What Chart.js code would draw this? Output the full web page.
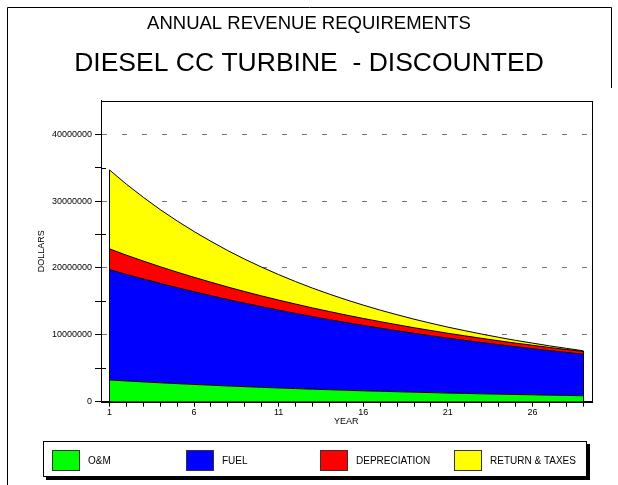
<!DOCTYPE html>
<html>
<head>
<meta charset="utf-8">
<script src="https://cdn.jsdelivr.net/npm/chart.js@4.4.1/dist/chart.umd.min.js"></script>
<style>
html, body { margin: 0; padding: 0; background: #fff; }
</style>
</head>
<body>
<canvas id="revenue" width="618" height="485"></canvas>
<script>
const years = ['1','2','3','4','5','6','7','8','9','10','11','12','13','14','15',
               '16','17','18','19','20','21','22','23','24','25','26','27','28','29'];
const oAndM = [3250000,3100000,2960000,2830000,2700000,2580000,2470000,2350000,2250000,2150000,
               2050000,1960000,1870000,1790000,1710000,1630000,1560000,1490000,1420000,1360000,
               1290000,1240000,1180000,1130000,1080000,1030000,980000,940000,890000];
const fuel = [16500000,15930000,15390000,14860000,14350000,13860000,13380000,12920000,12480000,12050000,
              11640000,11240000,10850000,10480000,10120000,9780000,9440000,9120000,8800000,8500000,
              8210000,7930000,7660000,7400000,7140000,6900000,6660000,6430000,6210000];
const depreciation = [3100000,2880000,2680000,2490000,2320000,2160000,2010000,1870000,1730000,1610000,
                      1500000,1400000,1300000,1210000,1120000,1040000,970000,900000,840000,780000,
                      730000,680000,630000,580000,540000,510000,470000,440000,410000];
const returnTaxes = [11800000,10610000,9530000,8540000,7650000,6840000,6110000,5440000,4840000,4300000,
                     3810000,3360000,2960000,2600000,2280000,1990000,1720000,1490000,1280000,1090000,
                     920000,770000,640000,520000,410000,320000,240000,170000,100000];
const yTicksLabelled = [0, 10000000, 20000000, 30000000, 40000000];

Chart.defaults.font.family = 'Arial, "Liberation Sans", sans-serif';
Chart.defaults.color = '#000';

// plot box, end edges of the areas, minor ticks, outer frame and the boxed legend
const framePlugin = {
  id: 'frame',
  afterDatasetsDraw(chart) {
    const c = chart.ctx, a = chart.chartArea, y = chart.scales.y;
    const top = chart.getDatasetMeta(chart.data.datasets.length - 1).data;
    c.save();
    c.strokeStyle = '#000';
    c.lineWidth = 1;
    [top[0], top[top.length - 1]].forEach(p => {
      c.beginPath();
      c.moveTo(Math.round(p.x) + 0.5, p.y);
      c.lineTo(Math.round(p.x) + 0.5, a.bottom);
      c.stroke();
    });
    // the unlabelled y ticks also poke into the plot
    y.ticks.forEach(t => {
      if (yTicksLabelled.includes(t.value) || t.value >= y.max) return;
      const py = Math.round(y.getPixelForValue(t.value)) + 0.5;
      c.beginPath();
      c.moveTo(a.left, py);
      c.lineTo(a.left + 5, py);
      c.stroke();
    });
    c.strokeRect(Math.round(a.left) + 0.5, Math.round(a.top) + 0.5,
                 Math.round(a.right - a.left), Math.round(a.bottom - a.top));
    c.restore();
  },
  afterDraw(chart) {
    const c = chart.ctx;
    c.save();
    c.strokeStyle = '#000';
    c.lineWidth = 1;
    c.beginPath();
    c.moveTo(7.5, 490); c.lineTo(7.5, 7.5); c.lineTo(611.5, 7.5); c.lineTo(611.5, 88);
    c.stroke();

    const lx = 43, ly = 441, lw = 544, lh = 36;
    c.fillStyle = '#000';
    c.fillRect(lx + 3, ly + 3, lw, lh);
    c.fillStyle = '#fff';
    c.fillRect(lx, ly, lw, lh);
    c.strokeRect(lx + 0.5, ly + 0.5, lw - 1, lh - 1);
    c.font = '10px Arial, "Liberation Sans", sans-serif';
    c.textBaseline = 'middle';
    chart.data.datasets.forEach((ds, i) => {
      const x = 52 + i * 134;
      c.fillStyle = ds.backgroundColor;
      c.fillRect(x, 450, 28, 21);
      c.strokeStyle = '#333';
      c.strokeRect(x + 0.5, 450.5, 27, 20);
      c.fillStyle = '#000';
      c.fillText(ds.label, x + 36, 461);
    });
    c.restore();
  }
};

const ctx = document.getElementById('revenue').getContext('2d');
const revenueChart = new Chart(ctx, {
  type: 'line',
  data: {
    labels: years,
    datasets: [
      { label: 'O&M', data: oAndM, backgroundColor: '#00ff00', fill: 'origin' },
      { label: 'FUEL', data: fuel, backgroundColor: '#0000ff', fill: '-1' },
      { label: 'DEPRECIATION', data: depreciation, backgroundColor: '#ff0000', fill: '-1' },
      { label: 'RETURN & TAXES', data: returnTaxes, backgroundColor: '#ffff00', fill: '-1' }
    ]
  },
  options: {
    responsive: false,
    animation: false,
    elements: {
      line: { borderColor: '#000', borderWidth: 1, tension: 0 },
      point: { radius: 0, hoverRadius: 0 }
    },
    layout: { padding: { left: 26.3, right: 26.3, top: 0, bottom: 58.3 } },
    plugins: {
      legend: { display: false },
      tooltip: { enabled: false },
      title: {
        display: true, text: 'ANNUAL REVENUE REQUIREMENTS', color: '#000',
        font: { size: 18.5, weight: 'normal' }, padding: { top: 12.4, bottom: 0 }
      },
      subtitle: {
        display: true, text: 'DIESEL CC TURBINE  - DISCOUNTED', color: '#000',
        font: { size: 26.5, weight: 'normal' }, padding: { top: 13, bottom: 21.3 }
      }
    },
    scales: {
      x: {
        offset: true,
        grid: { drawOnChartArea: false, tickLength: 5, tickColor: '#000' },
        border: { color: '#000' },
        ticks: {
          autoSkip: false, maxRotation: 0, padding: 0, font: { size: 9 },
          callback: (v, i) => (i % 5 === 0 ? years[i] : '')
        },
        title: { display: true, text: 'YEAR', font: { size: 9 }, padding: { top: 0, bottom: 0 } },
        afterFit: s => { s.height = 25; s.paddingLeft = 0; s.paddingRight = 0; }
      },
      y: {
        stacked: true,
        min: 0,
        max: 45000000,
        grid: {
          color: c => (c.tick && c.tick.value > 0 && c.tick.value < 45000000 &&
                       yTicksLabelled.includes(c.tick.value)) ? '#777' : 'rgba(0,0,0,0)',
          tickColor: c => (c.tick && c.tick.value === 45000000) ? 'rgba(0,0,0,0)' : '#000',
          tickLength: 6
        },
        border: { color: '#000', dash: [5, 15] },
        ticks: {
          stepSize: 5000000, padding: 3, font: { size: 9 },
          callback: v => (yTicksLabelled.includes(v) ? String(v) : '')
        },
        title: { display: true, text: 'DOLLARS', font: { size: 9 }, padding: { top: 10.3, bottom: 0 } },
        afterFit: s => { s.width = 74.7; s.paddingTop = 0; s.paddingBottom = 0; }
      }
    }
  },
  plugins: [framePlugin]
});
</script>
</body>
</html>
